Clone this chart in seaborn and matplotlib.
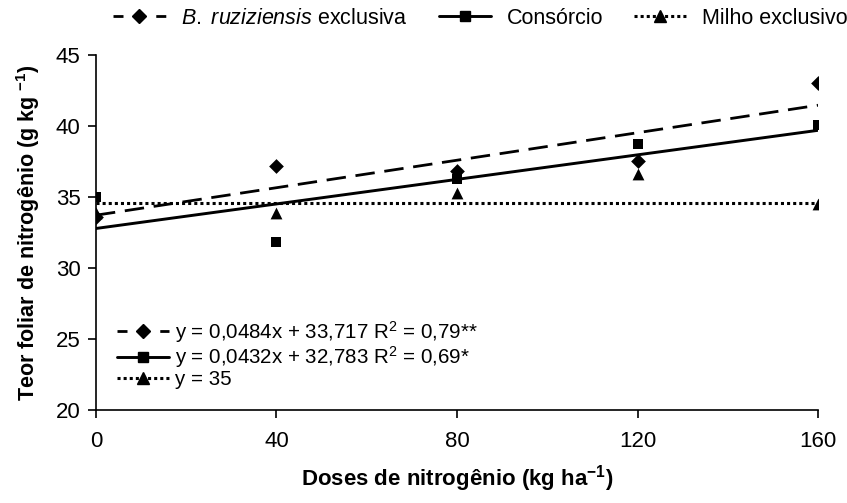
import numpy as np
import pandas as pd
import matplotlib
matplotlib.use("Agg")
import matplotlib.pyplot as plt
from matplotlib.lines import Line2D
import seaborn as sns

# Nitrogen doses (kg/ha)
doses = [0, 40, 80, 120, 160]

# Leaf nitrogen content (g/kg) per treatment
ruziziensis = [33.6, 37.2, 36.8, 37.5, 43.0]
consorcio = [35.0, 31.8, 36.3, 38.7, 40.1]
milho = [33.9, 33.9, 35.3, 36.6, 34.5]

# Fitted equations
ruz_slope, ruz_intercept, ruz_r2 = 0.0484, 33.717, "0,79**"
con_slope, con_intercept, con_r2 = 0.0432, 32.783, "0,69*"
milho_const = 34.55

series_names = ["B. ruziziensis exclusiva", "Consórcio", "Milho exclusivo"]
x_ticks = [0, 40, 80, 120, 160]
y_ticks = [20, 25, 30, 35, 40, 45]

sns.set_theme(style="ticks")
plt.rcParams["font.family"] = ["Liberation Sans", "DejaVu Sans"]
plt.rcParams["mathtext.fontset"] = "custom"
plt.rcParams["mathtext.rm"] = "Liberation Sans"
plt.rcParams["mathtext.it"] = "Liberation Sans:italic"
plt.rcParams["mathtext.bf"] = "Liberation Sans:bold"
for key in ["text.color", "axes.labelcolor", "xtick.color", "ytick.color",
            "xtick.labelcolor", "ytick.labelcolor"]:
    plt.rcParams[key] = "black"

pts = pd.DataFrame({
    "dose": doses * 3,
    "teor": ruziziensis + consorcio + milho,
    "trat": [series_names[0]] * 5 + [series_names[1]] * 5 + [series_names[2]] * 5,
})

xs = np.array(doses, dtype=float)
fits = pd.DataFrame({
    "dose": list(xs) * 3,
    "teor": list(ruz_slope * xs + ruz_intercept)
    + list(con_slope * xs + con_intercept)
    + [milho_const] * len(xs),
    "trat": [series_names[0]] * 5 + [series_names[1]] * 5 + [series_names[2]] * 5,
})

fig = plt.figure(figsize=(8.47, 5.03), dpi=100)
ax = fig.add_axes([0.1133, 0.1849, 0.8525, 0.7058])

styles = {
    series_names[0]: dict(ls=(0, (7, 3.5)), marker="D", ms=7.5),
    series_names[1]: dict(ls="-", marker="s", ms=7.5),
    series_names[2]: dict(ls=(0, (1, 1)), marker="^", ms=8.5),
}
# legend keys: one short dash on each side of the diamond
legend_ls = {
    series_names[0]: (0, (3.6, 11.8)),
    series_names[1]: "-",
    series_names[2]: (0, (1, 1)),
}
lws = {series_names[0]: 2.0, series_names[1]: 2.1, series_names[2]: 2.2}

for name in series_names:
    sub = fits[fits["trat"] == name]
    sns.lineplot(data=sub, x="dose", y="teor", ax=ax, color="black",
                 lw=lws[name], linestyle=styles[name]["ls"], legend=False)
    psub = pts[pts["trat"] == name]
    sns.scatterplot(data=psub, x="dose", y="teor", ax=ax, color="black",
                    marker=styles[name]["marker"], s=styles[name]["ms"] ** 2,
                    edgecolor="black", linewidth=0, legend=False, zorder=5)

ax.set_xlim(0, 160)
ax.set_ylim(20, 45)
ax.set_xticks(x_ticks)
ax.set_yticks(y_ticks)
ax.tick_params(axis="both", labelsize=16, length=6, width=1.2, color="black",
               direction="out")
ax.tick_params(axis="x", pad=9)
ax.tick_params(axis="y", pad=5)
for s in ["top", "right"]:
    ax.spines[s].set_visible(False)
for s in ["left", "bottom"]:
    ax.spines[s].set_color("black")
    ax.spines[s].set_linewidth(1.2)

ax.set_xlabel(r"Doses de nitrogênio (kg ha$^{\mathbf{-1}}$)", fontsize=16,
              fontweight="bold", labelpad=8)
ax.set_ylabel(r"Teor foliar de nitrogênio (g kg $^{\mathbf{-1}}$)", fontsize=15.5,
              fontweight="bold", labelpad=10)


def handle(name):
    st = styles[name]
    return Line2D([0], [0], color="black", lw=lws[name], linestyle=legend_ls[name],
                  marker=st["marker"], markersize=st["ms"])


top_labels = [r"$\it{B.\ ruziziensis}$ exclusiva", series_names[1], series_names[2]]
fig.legend([handle(n) for n in series_names], top_labels, loc="center",
           bbox_to_anchor=(0.567, 0.964), ncol=3, frameon=False, fontsize=15.5,
           handlelength=2.45, handletextpad=0.7, columnspacing=1.45)

eq_labels = [
    f"y = {ruz_slope:.4f}x + {ruz_intercept:.3f} R$^2$ = {ruz_r2}".replace(".", ","),
    f"y = {con_slope:.4f}x + {con_intercept:.3f} R$^2$ = {con_r2}".replace(".", ","),
    f"y = {milho_const:.0f}",
]
ax.legend([handle(n) for n in series_names], eq_labels, loc="lower left",
          bbox_to_anchor=(0.0, 0.0), frameon=False, fontsize=14.8,
          handlelength=2.56, handletextpad=0.3, labelspacing=0.0,
          borderaxespad=0.6)

fig.savefig("out.png", dpi=100)
